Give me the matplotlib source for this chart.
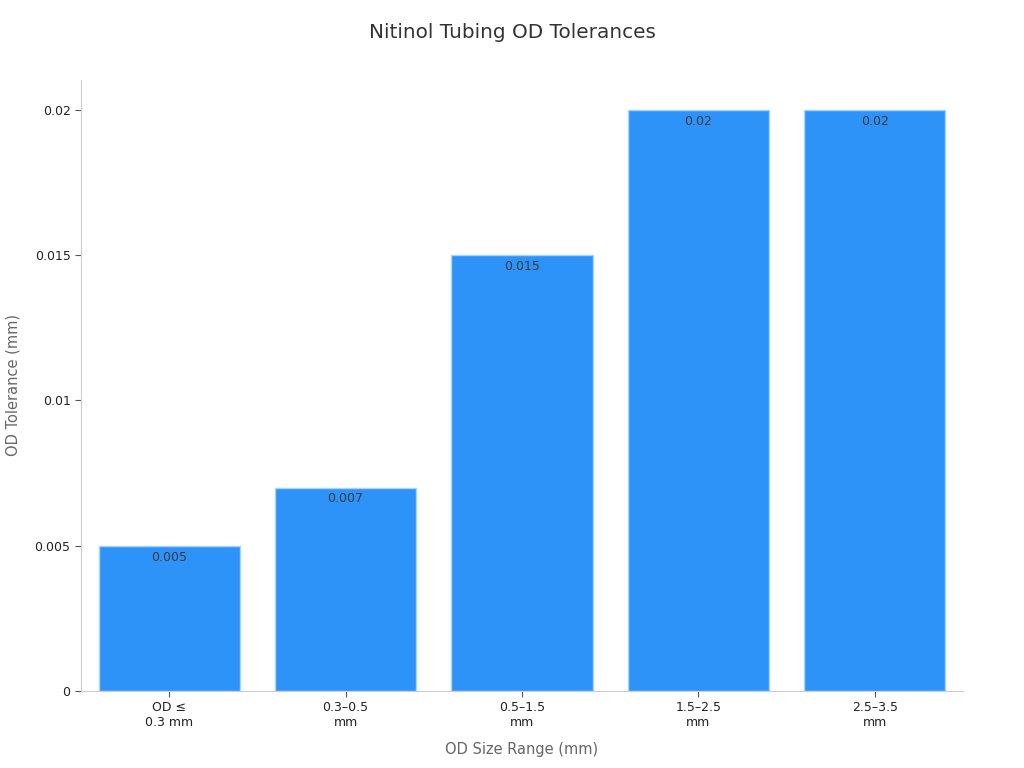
#!/usr/bin/env python3

import matplotlib
matplotlib.use("Agg")
import matplotlib.pyplot as plt

categories = ["OD \u2264\n0.3 mm", "0.3\u20130.5\nmm", "0.5\u20131.5\nmm", "1.5\u20132.5\nmm", "2.5\u20133.5\nmm"]
tolerances = [0.005, 0.007, 0.015, 0.02, 0.02]
value_labels = ["0.005", "0.007", "0.015", "0.02", "0.02"]
yticks = [0, 0.005, 0.01, 0.015, 0.02]
ytick_labels = ["0", "0.005", "0.01", "0.015", "0.02"]

fig = plt.figure(figsize=(10.24, 7.68), dpi=100)
ax = fig.add_axes([0.0791, 0.1003, 0.8613, 0.7955])

x = list(range(len(categories)))
bars = ax.bar(x, tolerances, width=0.8, color="#2E93F8", edgecolor="#A9D3FB", linewidth=1)

for xi, val, lab in zip(x, tolerances, value_labels):
    ax.annotate(lab, (xi, val), xytext=(0, -3.5), textcoords="offset points",
                ha="center", va="top", fontsize=9, color="#3a3a3a")

ax.set_xlim(-0.5, 4.5)
ax.set_ylim(0, 0.02103)
ax.set_xticks(x)
ax.set_xticklabels(categories, fontsize=9, color="#222222")
ax.set_yticks(yticks)
ax.set_yticklabels(ytick_labels, fontsize=9, color="#222222")

for s in ["top", "right"]:
    ax.spines[s].set_visible(False)
for s in ["left", "bottom"]:
    ax.spines[s].set_color("#cccccc")
ax.tick_params(axis="both", color="#555555", length=4)

ax.set_xlabel("OD Size Range (mm)", fontsize=10.5, color="#666666", labelpad=9)
ax.set_ylabel("OD Tolerance (mm)", fontsize=10.5, color="#666666", labelpad=10)
fig.suptitle("Nitinol Tubing OD Tolerances", fontsize=14.4, color="#333333", y=0.97)

fig.savefig("out.png", dpi=100)
